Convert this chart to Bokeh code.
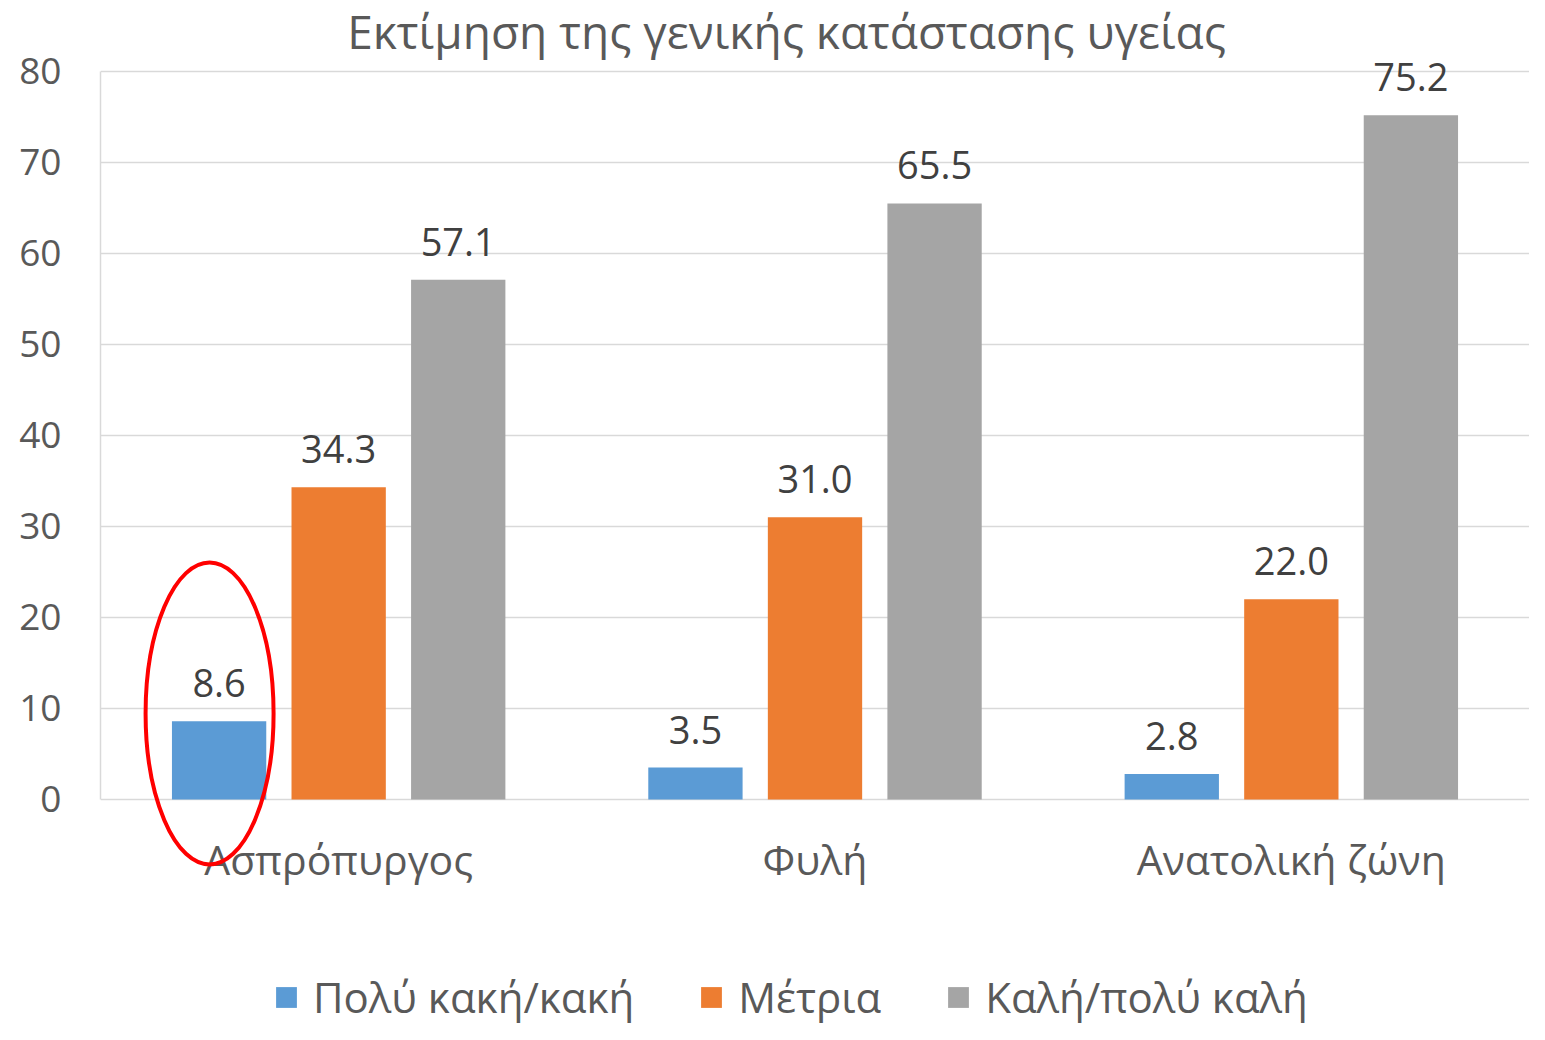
from bokeh.plotting import figure
from bokeh.models import (Range1d, FactorRange, FixedTicker, ColumnDataSource,
                          Legend, LegendItem, Label)
from bokeh.transform import dodge
from bokeh.core.properties import value
from bokeh.embed import file_html
from bokeh.resources import INLINE

# ---------------- data ----------------
title_text = "Εκτίμηση της γενικής κατάστασης υγείας"
categories = ["Ασπρόπυργος", "Φυλή", "Ανατολική ζώνη"]
series_names = ["Πολύ κακή/κακή", "Μέτρια", "Καλή/πολύ καλή"]
bad = [8.6, 3.5, 2.8]
moderate = [34.3, 31.0, 22.0]
good = [57.1, 65.5, 75.2]
y_ticks = [0, 10, 20, 30, 40, 50, 60, 70, 80]
highlight_category = ["Ασπρόπυργος"]

colors = ["#5B9BD5", "#ED7D31", "#A5A5A5"]
FONT = "Open Sans"

src = ColumnDataSource(dict(
    cat=categories,
    bad=bad, moderate=moderate, good=good,
    bad_lbl=[f"{v:.1f}" for v in bad],
    moderate_lbl=[f"{v:.1f}" for v in moderate],
    good_lbl=[f"{v:.1f}" for v in good],
    zero=[0] * len(categories),
))

xr = FactorRange(factors=categories)

p = figure(width=1529, height=1024,
           x_range=xr,
           y_range=Range1d(-24.73, 87.8),
           output_backend="svg", toolbar_location=None,
           x_axis_location=None,
           min_border_left=100, min_border_right=0,
           min_border_top=0, min_border_bottom=0)
p.outline_line_color = None
p.background_fill_color = "white"
p.border_fill_color = "white"

# axis
yax = p.yaxis[0]
yax.ticker = FixedTicker(ticks=y_ticks)
yax.bounds = (0, 80)
yax.axis_line_color = "#D9D9D9"
yax.axis_line_width = 1.5
yax.major_tick_line_color = None
yax.minor_tick_line_color = None
yax.major_label_text_font = FONT
yax.major_label_text_font_size = "37px"
yax.major_label_text_color = "#595959"
yax.major_label_standoff = 33

p.xgrid.visible = False
p.ygrid.ticker = FixedTicker(ticks=y_ticks)
p.ygrid.grid_line_color = "#D9D9D9"
p.ygrid.grid_line_width = 1.5

offsets = [-0.251, 0.0, 0.251]
fields = ["bad", "moderate", "good"]
items = []
for f, off, col, name in zip(fields, offsets, colors, series_names):
    r = p.vbar(x=dodge("cat", off, range=p.x_range), top=f, width=0.198,
               source=src, fill_color=col, line_color=None)
    p.text(x=dodge("cat", off, range=p.x_range), y=f, text=f + "_lbl",
           source=src, text_align="center", text_baseline="alphabetic",
           y_offset=-38, text_font=value(FONT), text_font_size="38px",
           text_color="#404040")
    items.append(LegendItem(label=name, renderers=[r]))

# category labels under the baseline
p.text(x="cat", y="zero", text="cat", source=src, text_align="center",
       text_baseline="alphabetic", y_offset=60, text_font=value(FONT),
       text_font_size="41px", text_color="#595959")

# red highlight ellipse
hl = ColumnDataSource(dict(cat=highlight_category, yc=[9.45]))
p.ellipse(x=dodge("cat", -0.271, range=p.x_range), y="yc", width=128, height=302,
          width_units="screen", height_units="screen", source=hl,
          fill_color=None, line_color="#FF0000", line_width=4)

# title
p.add_layout(Label(x=686, y=994, x_units="screen", y_units="screen",
                   text=title_text, text_align="center", text_baseline="middle",
                   text_font=FONT, text_font_size="46px", text_color="#595959"))

legend = Legend(items=items, orientation="horizontal", location=(173, -1),
                border_line_color=None, background_fill_alpha=0,
                padding=0, margin=0, spacing=64, label_standoff=14,
                glyph_width=26, glyph_height=26,
                label_text_font=FONT, label_text_font_size="42px",
                label_text_color="#595959")
p.add_layout(legend)

open("out.html", "w").write(file_html(p, INLINE))
